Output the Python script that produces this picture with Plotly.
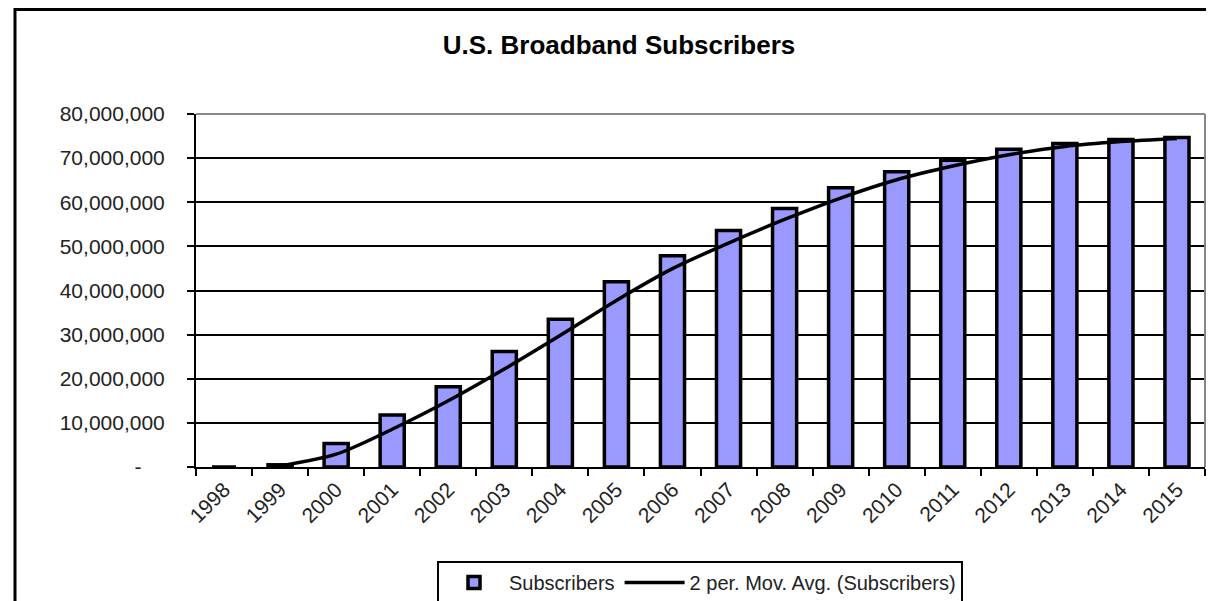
import plotly.graph_objects as go

years = [str(y) for y in range(1998, 2016)]
subscribers = [0, 500000, 5300000, 11800000, 18200000, 26200000, 33500000, 42000000,
               47900000, 53600000, 58600000, 63300000, 66900000, 69500000, 72000000,
               73300000, 74200000, 74700000]
y_tickvals = [0, 10000000, 20000000, 30000000, 40000000, 50000000, 60000000, 70000000, 80000000]
y_ticktext = ["-\u00a0\u00a0\u00a0\u00a0", "10,000,000", "20,000,000", "30,000,000",
              "40,000,000", "50,000,000", "60,000,000", "70,000,000", "80,000,000"]

# 2-period moving average trendline (as Excel computes it)
ma_x = years[1:]
ma_y = [(subscribers[i - 1] + subscribers[i]) / 2 for i in range(1, len(subscribers))]

FONT = "Liberation Sans, Arial, sans-serif"
OFF = 8  # page body margin in the browser

W, H = 1214, 601
L, R, T, B = 196 - OFF, W - (1205 - OFF), 114 - OFF, H - (467 - OFF)
PW, PH = W - L - R, H - T - B

fig = go.Figure()
fig.add_trace(go.Bar(
    x=years, y=subscribers, name="Subscribers",
    marker=dict(color="#9999FF", line=dict(color="black", width=3.5)),
))
fig.add_trace(go.Scatter(
    x=ma_x, y=ma_y, mode="lines", name="2 per. Mov. Avg. (Subscribers)",
    line=dict(color="black", width=3.5, shape="spline", smoothing=0.8),
))

fig.update_layout(
    width=W, height=H,
    margin=dict(l=L, r=R, t=T, b=B, autoexpand=False),
    paper_bgcolor="white", plot_bgcolor="white",
    bargap=0.57,
    font=dict(family=FONT, size=21, color="#222222"),
    title=dict(text="<b>U.S. Broadband Subscribers</b>", x=(619 - OFF) / W, xref="container",
               y=1 - (45 - OFF) / H, yref="container", yanchor="middle", xanchor="center",
               font=dict(family=FONT, size=26, color="black")),
    showlegend=True,
    legend=dict(orientation="h", x=(700 - OFF) / W, xref="container", xanchor="center",
                y=1 - (561 - OFF) / H, yref="container", yanchor="top",
                bordercolor="black", borderwidth=2, bgcolor="white",
                font=dict(family=FONT, size=20, color="#222222"),
                itemwidth=60, tracegroupgap=0),
    xaxis=dict(type="category", tickson="boundaries", ticks="outside", ticklen=7,
               tickcolor="black", tickwidth=2, showline=True, linecolor="black", linewidth=2,
               tickangle=-45, showgrid=False, automargin=False,
               tickfont=dict(size=21, color="#222222")),
    yaxis=dict(range=[0, 80000000], tickvals=y_tickvals, ticktext=y_ticktext,
               ticks="outside", ticklen=7, tickcolor="black", tickwidth=2,
               showline=True, linecolor="black", linewidth=2, automargin=False,
               showgrid=True, gridcolor="black", gridwidth=1.5, zeroline=False,
               ticklabelstandoff=18, tickfont=dict(size=21, color="#222222")),
    shapes=[
        dict(type="line", xref="paper", yref="paper", x0=0, x1=1, y0=1, y1=1,
             line=dict(color="#888888", width=2)),
        dict(type="line", xref="paper", yref="paper", x0=1, x1=1, y0=0, y1=1,
             line=dict(color="#888888", width=2)),
        dict(type="rect", xref="paper", yref="paper", x0=(15 - 196) / PW, x1=1.2,
             y0=-0.6, y1=(T - 1.5) / PH + 1, line=dict(color="black", width=3)),
    ],
)

fig.write_html("out.html")
